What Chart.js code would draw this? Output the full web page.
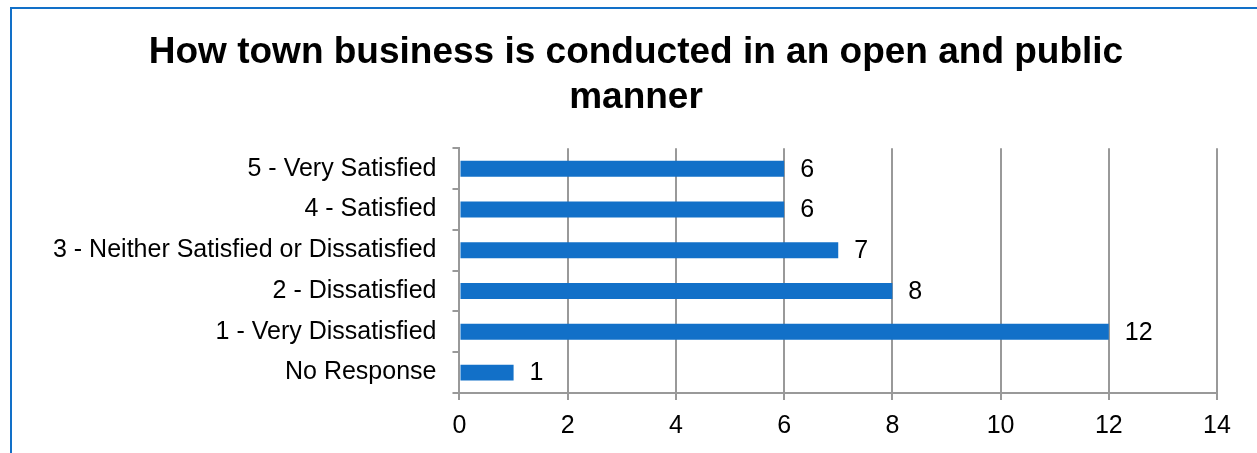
<!DOCTYPE html>
<html>
<head>
  <title>Town business survey</title>
  <script src="https://cdn.jsdelivr.net/npm/chart.js"></script>
  <style>
    html, body { margin: 0; padding: 0; background: #fff; overflow: hidden; }
    #frame { position: absolute; left: 10px; top: 7px; width: 1300px; height: 500px;
             border-left: 2px solid #1270C8; border-top: 2px solid #1270C8; }
    #wrap { position: absolute; left: 0; top: 0; width: 1257px; height: 453px; }
  </style>
</head>
<body>
  <div id="frame"></div>
  <div id="wrap"><canvas id="barChart" width="1257" height="453"></canvas></div>

  <script>
    const categories = [
      '5 - Very Satisfied',
      '4 - Satisfied',
      '3 - Neither Satisfied or Dissatisfied',
      '2 - Dissatisfied',
      '1 - Very Dissatisfied',
      'No Response'
    ];
    const responses = [6, 6, 7, 8, 12, 1];
    const titleLines = ['How town business is conducted in an open and public', 'manner'];

    const FONT = '"Liberation Sans", Arial, sans-serif';

    // writes the count just past the end of each bar
    const valueLabels = {
      id: 'valueLabels',
      afterDatasetsDraw(chart) {
        const ctx = chart.ctx;
        const meta = chart.getDatasetMeta(0);
        ctx.save();
        ctx.font = '25px ' + FONT;
        ctx.fillStyle = '#000';
        ctx.textAlign = 'left';
        ctx.textBaseline = 'middle';
        meta.data.forEach((bar, i) => {
          ctx.fillText(String(responses[i]), bar.x + 16, bar.y + 1);
        });
        ctx.restore();
      }
    };

    const ctx = document.getElementById('barChart').getContext('2d');
    new Chart(ctx, {
      type: 'bar',
      data: {
        labels: categories,
        datasets: [{
          data: responses,
          backgroundColor: '#1270C8',
          categoryPercentage: 0.39,
          barPercentage: 1
        }]
      },
      plugins: [valueLabels],
      options: {
        indexAxis: 'y',
        responsive: false,
        animation: false,
        layout: { padding: { left: 37, right: 22, top: 30, bottom: 0 } },
        plugins: {
          legend: { display: false },
          tooltip: { enabled: false },
          title: {
            display: true,
            text: titleLines,
            color: '#000',
            font: { family: FONT, size: 37, weight: 'bold', lineHeight: 1.22 },
            padding: { top: 0, bottom: 28 }
          }
        },
        scales: {
          x: {
            min: 0,
            max: 14,
            afterFit(scale) { scale.paddingRight = 40; },
            ticks: {
              stepSize: 2,
              color: '#000',
              padding: 14,
              font: { family: FONT, size: 25, lineHeight: 1 }
            },
            grid: { color: '#999', lineWidth: 2, tickLength: 7 },
            border: { color: '#999', width: 2 }
          },
          y: {
            ticks: {
              color: '#000',
              padding: 16,
              font: { family: FONT, size: 25 }
            },
            grid: { drawOnChartArea: false, color: '#999', lineWidth: 2, tickLength: 7, offset: true },
            border: { color: '#999', width: 2 }
          }
        }
      }
    });
  </script>
</body>
</html>
